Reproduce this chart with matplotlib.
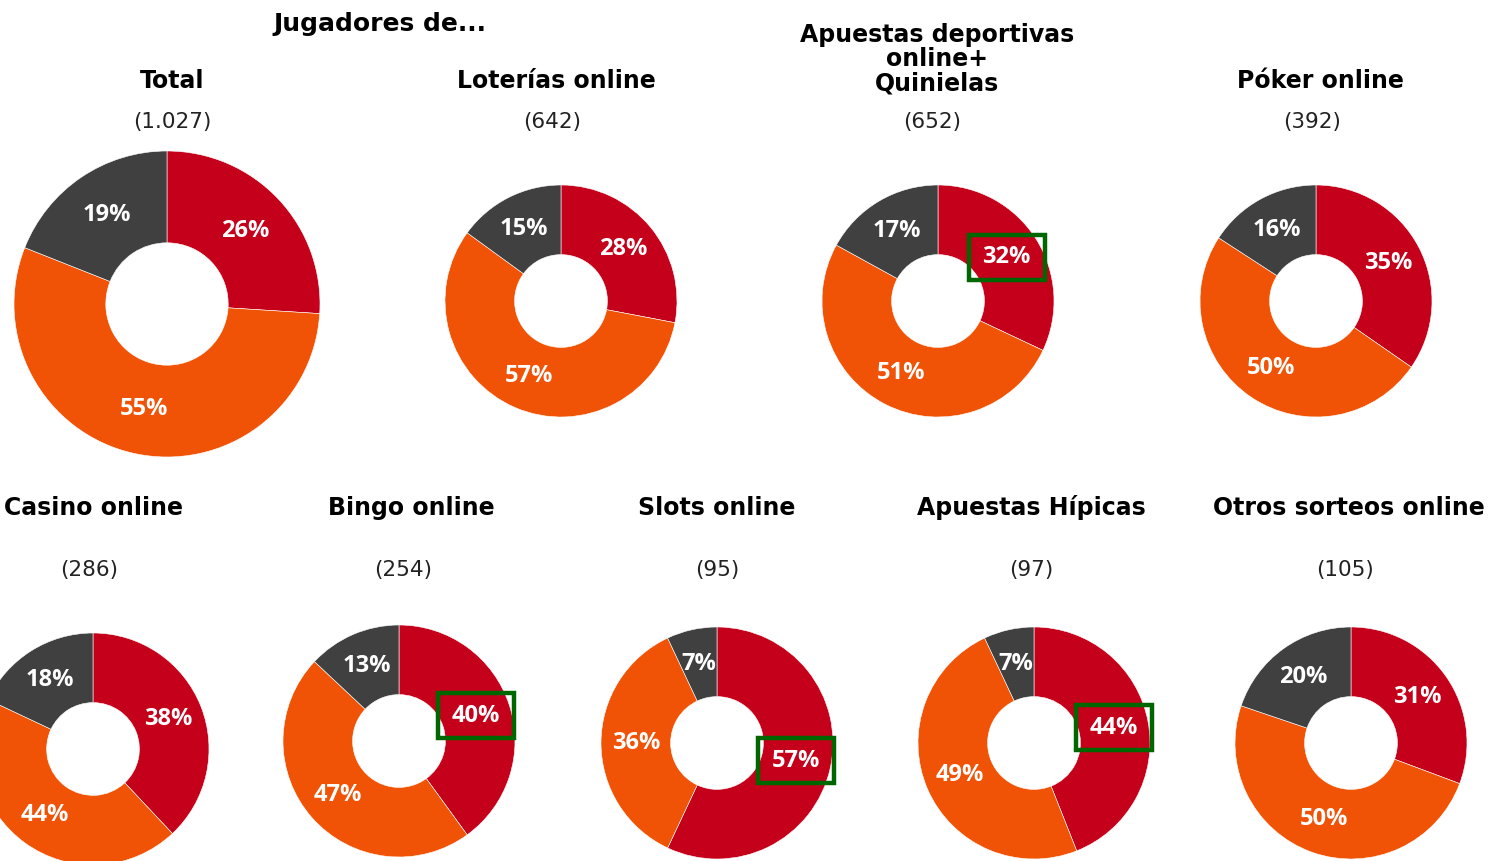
import matplotlib
matplotlib.use('Agg')
import matplotlib.pyplot as plt
from matplotlib.patches import Rectangle

# data
titles = ['Total', 'Loterías online', 'Apuestas deportivas\nonline+\nQuinielas', 'Póker online',
          'Casino online', 'Bingo online', 'Slots online', 'Apuestas Hípicas', 'Otros sorteos online']
bases = ['(1.027)', '(642)', '(652)', '(392)', '(286)', '(254)', '(95)', '(97)', '(105)']
red_pct = [26, 28, 32, 35, 38, 40, 57, 44, 31]
orange_pct = [55, 57, 51, 50, 44, 47, 36, 49, 50]
grey_pct = [19, 15, 17, 16, 18, 13, 7, 7, 20]
highlight = [False, False, True, False, False, True, True, True, False]

colors = ['#C4001A', '#F05305', '#404040']
W, H = 1491, 861

# layout in pixels (center x, center y, outer radius)
donuts = [(167, 304, 153), (561, 301, 116), (938, 301, 116), (1316, 301, 116),
          (93, 749, 116), (399, 741, 116), (717, 743, 116), (1034, 743, 116), (1351, 743, 116)]
title_xy = [(172, 81), (556, 81), (937, 59), (1320, 81),
            (93, 508), (411, 508), (717, 508), (1031, 508), (1349, 508)]
base_xy = [(172, 122), (552, 122), (932, 122), (1312, 122),
           (89, 570), (403, 570), (717, 570), (1031, 570), (1345, 570)]

fig = plt.figure(figsize=(W / 100, H / 100), dpi=100)

fig.text(380 / W, 1 - 24 / H, 'Jugadores de...', ha='center', va='center',
         fontsize=18, fontweight='bold', family='DejaVu Sans')

for i in range(9):
    cx, cy, r = donuts[i]
    ax = fig.add_axes([(cx - r) / W, (H - cy - r) / H, 2 * r / W, 2 * r / H])
    vals = [red_pct[i], orange_pct[i], grey_pct[i]]
    wedges, texts, autotexts = ax.pie(vals, colors=colors, startangle=90, counterclock=False,
                                      radius=1, autopct='%d', pctdistance=0.7,
                                      wedgeprops=dict(width=0.6, edgecolor='white', linewidth=0.4))
    for t, v in zip(autotexts, vals):
        t.set_text(f'{v}%')
        t.set_color('white')
        t.set_fontsize(17)
        t.set_fontweight('bold')
        t.set_family('Open Sans')
    if highlight[i]:
        x, y = autotexts[0].get_position()
        bw, bh = 76 / r, 45 / r
        ax.add_patch(Rectangle((x - bw / 2, y - bh / 2), bw, bh, fill=False,
                               edgecolor='#006600', linewidth=3.2, clip_on=False, zorder=5))
    ax.set_xlim(-1, 1)
    ax.set_ylim(-1, 1)
    ax.set_aspect('equal')
    ax.axis('off')

    tx, ty = title_xy[i]
    fig.text(tx / W, 1 - ty / H, titles[i], ha='center', va='center', fontsize=17,
             fontweight='bold', family='DejaVu Sans', linespacing=1.0)
    bx, by = base_xy[i]
    fig.text(bx / W, 1 - by / H, bases[i], ha='center', va='center', fontsize=15.5,
             family='DejaVu Sans', color='#222222')

fig.savefig('out.png', dpi=100)
